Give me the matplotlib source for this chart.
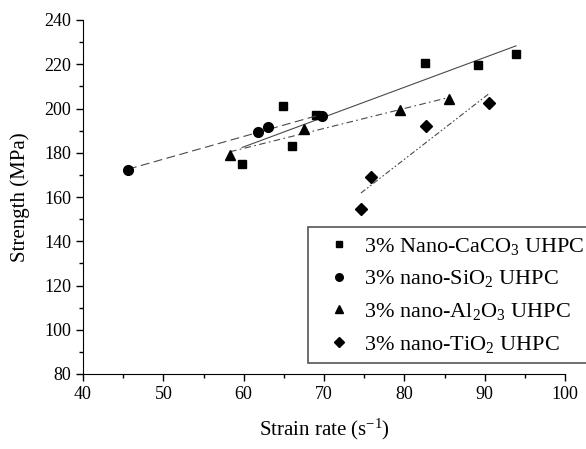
import numpy as np
import matplotlib
matplotlib.use("Agg")
import matplotlib.pyplot as plt
from matplotlib.ticker import MultipleLocator

plt.rcParams["font.family"] = ["Liberation Serif", "DejaVu Serif"]
plt.rcParams["mathtext.fontset"] = "custom"
plt.rcParams["mathtext.rm"] = "Liberation Serif"
plt.rcParams["mathtext.it"] = "Liberation Serif:italic"

# strain rate (1/s) and dynamic compressive strength (MPa)
caco3_rate = [59.8, 64.9, 66.0, 69.0, 82.6, 89.2, 93.9]
caco3_strength = [175.0, 201.0, 183.0, 196.9, 220.6, 219.5, 224.5]

sio2_rate = [45.6, 61.8, 63.0, 69.8]
sio2_strength = [172.2, 189.2, 191.8, 196.5]

al2o3_rate = [58.3, 67.5, 79.4, 85.5]
al2o3_strength = [179.0, 190.9, 199.5, 204.2]

tio2_rate = [74.6, 75.8, 82.7, 90.5]
tio2_strength = [154.6, 169.0, 192.1, 202.5]

labels = [
    "3% Nano-CaCO$_3$ UHPC",
    "3% nano-SiO$_2$ UHPC",
    "3% nano-Al$_2$O$_3$ UHPC",
    "3% nano-TiO$_2$ UHPC",
]

series = [
    (caco3_rate, caco3_strength, "s", "-"),
    (sio2_rate, sio2_strength, "o", (0, (8, 4))),
    (al2o3_rate, al2o3_strength, "^", (0, (6, 3, 1.5, 3))),
    (tio2_rate, tio2_strength, "D", (0, (5, 2, 1.5, 2, 1.5, 2))),
]

fig = plt.figure(figsize=(5.86, 4.49), dpi=100)
ax = fig.add_axes([83 / 586, 1 - 374 / 449, (565 - 83) / 586, (374 - 20) / 449])

for (x, y, marker, ls), label in zip(series, labels):
    x = np.array(x)
    y = np.array(y)
    # linear trend over the measured range
    k, b = np.polyfit(x, y, 1)
    xs = np.array([x.min(), x.max()])
    ax.plot(xs, k * xs + b, color="#4a4a4a", linestyle=ls, linewidth=0.8)
    ms = {"s": 6.2, "o": 7, "^": 7.5, "D": 6.5}[marker]
    ax.plot(x, y, linestyle="none", marker=marker, color="black",
            markersize=ms, label=label)

ax.set_xlim(40, 100)
ax.set_ylim(80, 240)
ax.xaxis.set_major_locator(MultipleLocator(10))
ax.xaxis.set_minor_locator(MultipleLocator(5))
ax.yaxis.set_major_locator(MultipleLocator(20))
ax.yaxis.set_minor_locator(MultipleLocator(10))
ax.tick_params(which="major", direction="out", length=5, width=1, labelsize=13)
ax.tick_params(which="minor", direction="out", length=3, width=1)
ax.spines["top"].set_visible(False)
ax.spines["right"].set_visible(False)

ax.set_xlabel("Strain rate (s$^{-1}$)", fontsize=15, labelpad=10)
ax.set_ylabel("Strength (MPa)", fontsize=15, labelpad=10)

leg = ax.legend(loc="upper left", bbox_to_anchor=(308 / 586, 1 - 227 / 449),
                bbox_transform=fig.transFigure, borderaxespad=0, fontsize=16,
                fancybox=False, framealpha=1, edgecolor="#555555",
                markerscale=0.78, handlelength=2.0, handletextpad=0.1,
                labelspacing=0.52, borderpad=0.4)
leg.get_frame().set_linewidth(1.2)

fig.savefig("out.png", dpi=100)
